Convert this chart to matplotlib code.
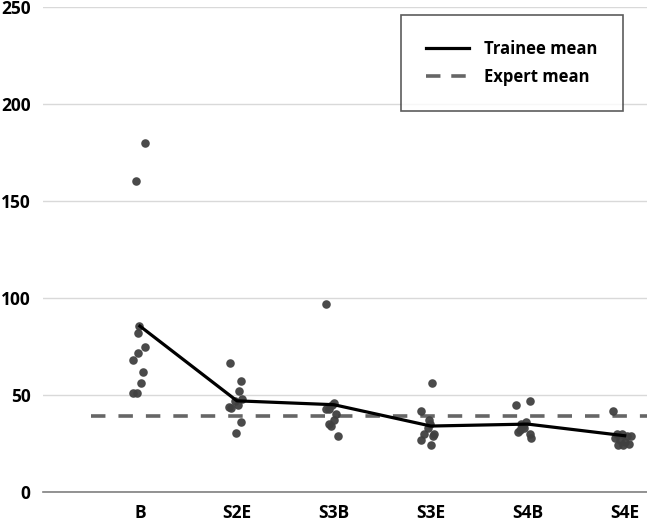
import matplotlib
matplotlib.use("Agg")
import matplotlib.pyplot as plt
from matplotlib.lines import Line2D

categories = ["B", "S2E", "S3B", "S3E", "S4B", "S4E"]

# individual trainee scores (x = category position incl. jitter, y = value)
b_x = [1.05, 0.96, 0.99, 0.98, 1.05, 0.98, 0.93, 1.03, 1.01, 0.93, 0.97]
b_y = [180, 160.5, 85.6, 82, 75, 71.6, 68, 62, 56, 51, 51]
s2e_x = [1.93, 2.04, 2.02, 2.05, 1.98, 2.01, 1.92, 1.94, 2.04, 1.99]
s2e_y = [66.5, 57, 52, 48, 47, 45, 44, 43.5, 36, 30.5]
s3b_x = [2.92, 3.00, 2.98, 2.92, 2.95, 3.02, 3.00, 2.95, 2.97, 3.04]
s3b_y = [97, 46, 45, 43, 43, 40, 37, 35, 34, 29]
s3e_x = [4.01, 3.90, 3.98, 3.99, 3.97, 3.93, 4.03, 4.02, 3.90, 4.00]
s3e_y = [56, 42, 37, 35, 33, 30, 30, 29, 27, 24]
s4b_x = [4.88, 5.02, 4.98, 4.95, 4.92, 4.90, 5.02, 5.03, 4.96, 4.93]
s4b_y = [45, 47, 36, 34, 32, 31, 30, 28, 33, 35]
s4e_x = [5.88, 5.92, 5.97, 6.02, 6.06, 5.90, 5.95, 6.00, 6.04, 5.93, 5.98]
s4e_y = [42, 30, 30, 29, 29, 28, 27, 26, 25, 24, 24]

trainee_mean = [85.5, 47, 45, 34, 35, 29]
expert_mean = 39

plt.rcParams['font.family'] = ['Open Sans', 'DejaVu Sans']
plt.rcParams['font.weight'] = 'bold'
fig = plt.figure(figsize=(6.47, 5.21), dpi=100)
ax = fig.add_axes([43/647, 1 - 492/521, 1 - 43/647 + 0.006, (492 - 7)/521])

ax.set_ylim(0, 250)
ax.set_xlim(0, 6.27)
ax.set_yticks([0, 50, 100, 150, 200, 250])
ax.set_xticks(range(1, 7))
ax.set_xticklabels(categories, fontweight='bold')
ax.set_yticklabels(['0', '50', '100', '150', '200', '250'], fontweight='bold')
ax.grid(axis='y', color='#d9d9d9', linewidth=1)
ax.set_axisbelow(True)
for s in ['top', 'right', 'left']:
    ax.spines[s].set_visible(False)
ax.spines['bottom'].set_color('#808080')
ax.spines['bottom'].set_linewidth(1.2)
ax.tick_params(axis='both', length=0, labelsize=12.5)
ax.tick_params(axis='x', pad=9)
ax.tick_params(axis='y', pad=9)

for xs, ys in [(b_x, b_y), (s2e_x, s2e_y), (s3b_x, s3b_y), (s3e_x, s3e_y),
               (s4b_x, s4b_y), (s4e_x, s4e_y)]:
    ax.scatter(xs, ys, s=38, color='#404040', alpha=0.95, zorder=3, linewidths=0)

ax.plot(range(1, 7), trainee_mean, color='black', linewidth=2.3, zorder=4)
ax.plot([0.5, 6.6], [expert_mean, expert_mean], color='#666666', linewidth=2.6,
        dashes=(4, 3.6), zorder=2)

handles = [Line2D([], [], color='black', linewidth=2.3),
           Line2D([], [], color='#666666', linewidth=2.6, dashes=(4, 3.0))]
leg = ax.legend(handles, ['Trainee mean', 'Expert mean'],
                loc='upper left', bbox_to_anchor=((401 - 43) / 608, 1 - (15 - 7) / 485),
                frameon=True, fancybox=False, prop={'weight': 'bold', 'size': 12},
                handlelength=2.6, handletextpad=0.9, borderpad=1.5, labelspacing=0.6,
                borderaxespad=0)
leg.get_frame().set_edgecolor('#333333')
leg.get_frame().set_linewidth(1.2)

fig.savefig('out.png', dpi=100)
